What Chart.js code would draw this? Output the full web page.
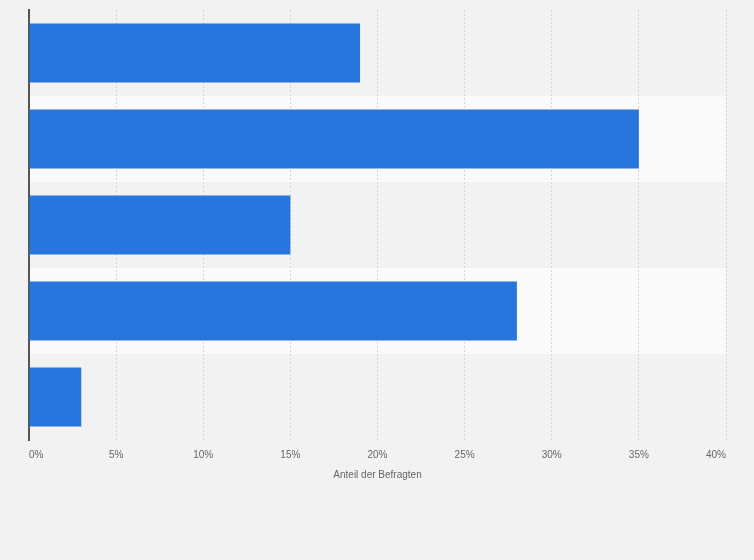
<!DOCTYPE html>
<html>
<head>
<meta charset="utf-8">
<script src="https://cdn.jsdelivr.net/npm/chart.js@4"></script>
<style>
  html, body { margin: 0; padding: 0; background: #f2f2f2; }
  #wrap { width: 754px; height: 560px; }
</style>
</head>
<body>
<div id="wrap"><canvas id="c" width="754" height="560"></canvas></div>
<script>
const categories = ["Antwort 1", "Antwort 2", "Antwort 3", "Antwort 4", "Antwort 5"];
const shares = [19, 35, 15, 28, 3];
const xTicks = [0, 5, 10, 15, 20, 25, 30, 35, 40];
const axisTitle = "Anteil der Befragten";

const bandPlugin = {
  id: 'bands',
  beforeDraw(chart) {
    const { ctx, chartArea, scales } = chart;
    ctx.save();
    ctx.fillStyle = '#f2f2f2';
    ctx.fillRect(0, 0, chart.width, chart.height);
    const y = scales.y;
    const n = categories.length;
    const step = (chartArea.bottom - chartArea.top) / n;
    ctx.fillStyle = '#fafafa';
    for (let i = 0; i < n; i++) {
      if (i % 2 === 1) {
        const c = y.getPixelForValue(i);
        ctx.fillRect(chartArea.left, c - step / 2, chartArea.right - chartArea.left, step);
      }
    }
    ctx.restore();
  }
};

new Chart(document.getElementById('c'), {
  type: 'bar',
  plugins: [bandPlugin],
  data: {
    labels: categories,
    datasets: [{
      data: shares,
      backgroundColor: '#2876dd',
      borderWidth: 0,
      barPercentage: 0.685,
      categoryPercentage: 1
    }]
  },
  options: {
    indexAxis: 'y',
    responsive: false,
    animation: false,
    devicePixelRatio: 1,
    layout: { padding: { left: 29, right: 28, top: 10, bottom: 79 } },
    plugins: { legend: { display: false }, tooltip: { enabled: false } },
    scales: {
      x: {
        min: 0, max: 40,
        afterBuildTicks(scale) { scale.ticks = xTicks.map(v => ({ value: v })); },
        afterFit(scale) { scale.height -= 2; },
        grid: { color: '#d6d6d6', lineWidth: 1, drawTicks: false },
        border: { display: false, dash: [2, 2] },
        ticks: {
          align: 'inner',
          padding: 12,
          color: '#666666',
          font: { family: 'Liberation Sans, Arial, sans-serif', size: 10, lineHeight: 0.7 },
          callback: (v) => v + '%'
        },
        title: {
          display: true,
          text: axisTitle,
          color: '#666666',
          font: { family: 'Liberation Sans, Arial, sans-serif', size: 10 },
          padding: { top: 0, bottom: 0 }
        }
      },
      y: {
        grid: { display: false, drawTicks: false },
        border: { display: true, color: '#555555', width: 2 },
        ticks: { display: false }
      }
    }
  }
});
</script>
</body>
</html>
